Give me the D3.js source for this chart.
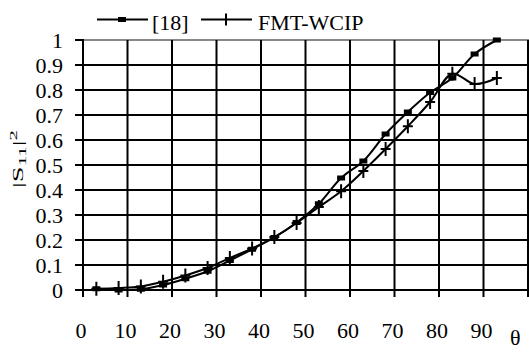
<!DOCTYPE html>
<html>
<head>
<meta charset="utf-8">
<script src="https://cdn.jsdelivr.net/npm/d3@7"></script>
<style>
  body { margin: 0; background: #fff; }
  text { font-family: "Liberation Serif", "Times New Roman", "DejaVu Serif", serif; }
</style>
</head>
<body>
<div id="chart"></div>
<script>
// angles (deg)
var theta = [3, 8, 13, 18, 23, 28, 33, 38, 43, 48, 53, 58, 63, 68, 73, 78, 83, 88, 93];
// |S11|^2 from [18]
var ref18 = [0.005, 0.0, 0.003, 0.02, 0.045, 0.075, 0.118, 0.163, 0.21, 0.27, 0.345, 0.448, 0.516, 0.624, 0.712, 0.79, 0.848, 0.944, 1.0];
// |S11|^2 from FMT-WCIP
var fmt = [0.005, 0.008, 0.014, 0.033, 0.058, 0.088, 0.128, 0.166, 0.212, 0.268, 0.332, 0.395, 0.476, 0.564, 0.655, 0.752, 0.865, 0.824, 0.848];
var xTicks = [0, 10, 20, 30, 40, 50, 60, 70, 80, 90];
var xGrid = [0, 10, 20, 30, 40, 50, 60, 70, 80, 90, 100];
var yTicks = [0, 0.1, 0.2, 0.3, 0.4, 0.5, 0.6, 0.7, 0.8, 0.9, 1];
var seriesNames = ["[18]", "FMT-WCIP"];

var W = 529, H = 352;
var svg = d3.select("#chart").append("svg")
    .attr("width", W)
    .attr("height", H);

var x = d3.scaleLinear().domain([0, 100]).range([83, 528]);
var y = d3.scaleLinear().domain([0, 1]).range([290, 40]);

/** grid **/
svg.append("g").selectAll("line").data(yTicks.slice(0, -1)).join("line")
    .attr("x1", 75).attr("x2", 528)
    .attr("y1", d => y(d)).attr("y2", d => y(d))
    .style("stroke", "#000").style("stroke-width", 2);

svg.append("line")
    .attr("x1", 75).attr("x2", 84)
    .attr("y1", y(1)).attr("y2", y(1))
    .style("stroke", "#000").style("stroke-width", 2);
svg.append("line")
    .attr("x1", 84).attr("x2", 529)
    .attr("y1", y(1)).attr("y2", y(1))
    .style("stroke", "#888").style("stroke-width", 2);

svg.append("g").selectAll("line").data(xGrid).join("line")
    .attr("x1", d => x(d)).attr("x2", d => x(d))
    .attr("y1", y(1)).attr("y2", 297)
    .style("stroke", "#000").style("stroke-width", 2);

/** tick labels **/
svg.append("g").selectAll("text").data(yTicks).join("text")
    .attr("x", 63)
    .attr("y", d => y(d) + 7.5)
    .attr("text-anchor", "end")
    .attr("font-size", 22)
    .text(d => d3.format("~g")(d));

svg.append("g").selectAll("text").data(xTicks).join("text")
    .attr("x", d => x(d) - 2)
    .attr("y", 338)
    .attr("text-anchor", "middle")
    .attr("font-size", 22)
    .text(d => d);

svg.append("text")
    .attr("x", 510).attr("y", 345)
    .attr("font-size", 22)
    .text("θ");

/** y title **/
var yt = svg.append("text")
    .attr("transform", "translate(23,159) rotate(-90) scale(1.9,1)")
    .attr("text-anchor", "middle")
    .attr("font-size", 15);
yt.append("tspan").text("|S");
yt.append("tspan").attr("font-size", 11).attr("dy", 3).text("11");
yt.append("tspan").attr("dy", -3).text("|");
yt.append("tspan").attr("font-size", 11).attr("dy", -6).text("2");

/** lines **/
var line = d3.line()
    .x(d => x(d[0]))
    .y(d => y(d[1]))
    .curve(d3.curveCatmullRom.alpha(0.5));

var d18 = d3.zip(theta, ref18);
var dF = d3.zip(theta, fmt);

svg.append("path").datum(d18).attr("d", line)
    .style("fill", "none").style("stroke", "#000").style("stroke-width", 2);
svg.append("path").datum(dF).attr("d", line)
    .style("fill", "none").style("stroke", "#000").style("stroke-width", 2);

// [18] markers: small dash
svg.append("g").selectAll("rect").data(d18).join("rect")
    .attr("x", d => x(d[0]) - 4)
    .attr("y", d => y(d[1]) - 2.5)
    .attr("width", 8).attr("height", 5)
    .style("fill", "#000");

// FMT-WCIP markers: plus
var plus = svg.append("g").selectAll("g").data(dF).join("g")
    .attr("transform", d => "translate(" + x(d[0]) + "," + y(d[1]) + ")");
plus.append("line").attr("x1", -5).attr("x2", 5).attr("y1", 0).attr("y2", 0)
    .style("stroke", "#000").style("stroke-width", 2);
plus.append("line").attr("x1", 0).attr("x2", 0).attr("y1", -7).attr("y2", 7)
    .style("stroke", "#000").style("stroke-width", 2);

/** legend **/
var leg = svg.append("g");
leg.append("line").attr("x1", 97).attr("x2", 148).attr("y1", 19.5).attr("y2", 19.5)
    .style("stroke", "#000").style("stroke-width", 2);
leg.append("rect").attr("x", 118).attr("y", 17).attr("width", 8).attr("height", 5)
    .style("fill", "#000");
leg.append("text").attr("x", 152).attr("y", 30).attr("font-size", 22).text(seriesNames[0]);

leg.append("line").attr("x1", 201).attr("x2", 252).attr("y1", 19.5).attr("y2", 19.5)
    .style("stroke", "#000").style("stroke-width", 2);
leg.append("line").attr("x1", 226).attr("x2", 226).attr("y1", 13.5).attr("y2", 25.5)
    .style("stroke", "#000").style("stroke-width", 2);
leg.append("text").attr("x", 258).attr("y", 30).attr("font-size", 22).text(seriesNames[1]);
</script>
</body>
</html>
